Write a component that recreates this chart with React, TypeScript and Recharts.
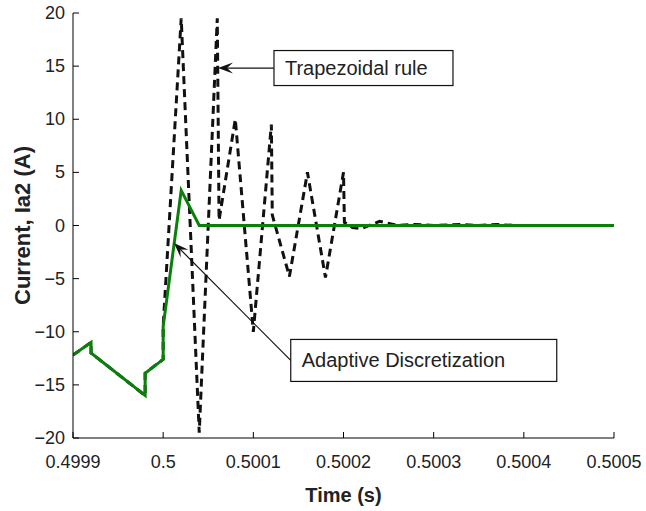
import React from 'react';
import { LineChart, Line, XAxis, YAxis, ReferenceLine, ReferenceDot } from 'recharts';

const xTicks = [0.4999, 0.5, 0.5001, 0.5002, 0.5003, 0.5004, 0.5005];
const xTickLabels = ['0.4999', '0.5', '0.5001', '0.5002', '0.5003', '0.5004', '0.5005'];
const yTicks = [-20, -15, -10, -5, 0, 5, 10, 15, 20];
const yTickLabels = ['\u221220', '\u221215', '\u221210', '\u22125', '0', '5', '10', '15', '20'];

const adaptiveTime = [0.4999, 0.49992, 0.49992, 0.49998, 0.49998, 0.5, 0.5, 0.50002, 0.50004, 0.5005];
const adaptiveCurrent = [-12.2, -11.0, -12.0, -16.0, -13.9, -12.6, -9.5, 3.3, 0, 0];

const trapTime = [
  0.4999, 0.49992, 0.49992, 0.49998, 0.49998, 0.5, 0.5, 0.50002, 0.50004, 0.50006, 0.500062,
  0.50008, 0.5001, 0.50012, 0.500121, 0.50014, 0.50016, 0.50018, 0.5002, 0.500201, 0.50021,
  0.50022, 0.50024, 0.50026, 0.50028, 0.5003, 0.50033, 0.50035, 0.50037, 0.50039, 0.5005,
];
const trapCurrent = [
  -12.2, -11.0, -12.0, -16.0, -13.9, -12.6, -9.5, 19.5, -19.5, 19.5, 0.5,
  10.0, -10.0, 9.5, 1.0, -4.8, 5.0, -4.9, 5.0, 0.3, -0.2,
  -0.3, 0.4, 0.0, 0.1, 0.0, 0.1, 0.0, 0.1, 0.0, 0,
];

const trapLabel = 'Trapezoidal rule';
const trapLabelAnchor = { x: 0.5001229, y: 14.82 };
const trapArrowTip = { x: 0.5000608, y: 14.82 };
const adaptiveLabel = 'Adaptive Discretization';
const adaptiveLabelAnchor = { x: 0.5001415, y: -12.7 };
const adaptiveArrowTip = { x: 0.500012, y: -1.65 };

const adaptiveData = adaptiveTime.map((t, i) => ({ t, v: adaptiveCurrent[i] }));
const trapData = trapTime.map((t, i) => ({ t, v: trapCurrent[i] }));

const FONT = '"Liberation Sans", Arial, Helvetica, sans-serif';
const TICK_LEN = 6;

const BottomTick = (p: any) => (
  <g>
    <line x1={p.x} x2={p.x} y1={p.y} y2={p.y - TICK_LEN} stroke="#000" strokeWidth={1} />
    <text x={p.x} y={p.y + 30} textAnchor="middle" fontFamily={FONT} fontSize={18} fill="#222">
      {xTickLabels[p.index]}
    </text>
  </g>
);
const TopTick = (p: any) => (
  <line x1={p.x} x2={p.x} y1={p.y} y2={p.y + TICK_LEN} stroke="#000" strokeWidth={1} />
);
const LeftTick = (p: any) => (
  <g>
    <line x1={p.x} x2={p.x + TICK_LEN} y1={p.y} y2={p.y} stroke="#000" strokeWidth={1} />
    <text x={p.x - 8} y={p.y + 6} textAnchor="end" fontFamily={FONT} fontSize={18} fill="#222">
      {yTickLabels[p.index]}
    </text>
  </g>
);
const RightTick = (p: any) => (
  <line x1={p.x} x2={p.x - TICK_LEN} y1={p.y} y2={p.y} stroke="#000" strokeWidth={1} />
);

const ArrowShape = (p: any) => {
  const { x1, y1, x2, y2 } = p;
  const dx = x1 - x2;
  const dy = y1 - y2;
  const len = Math.sqrt(dx * dx + dy * dy) || 1;
  const ux = dx / len;
  const uy = dy / len;
  const nx = -uy;
  const ny = ux;
  const L = 15;
  const W = 5.5;
  const N = 9;
  const pts = [
    [x2, y2],
    [x2 + ux * L + nx * W, y2 + uy * L + ny * W],
    [x2 + ux * N, y2 + uy * N],
    [x2 + ux * L - nx * W, y2 + uy * L - ny * W],
  ]
    .map((q) => q.join(','))
    .join(' ');
  return (
    <g>
      <line x1={x1} y1={y1} x2={x2 + ux * N} y2={y2 + uy * N} stroke="#111" strokeWidth={1.2} />
      <polygon points={pts} fill="#111" />
    </g>
  );
};

const makeBox = (text: string, w: number, h: number) => (p: any) => (
  <g>
    <rect x={p.cx} y={p.cy - h / 2} width={w} height={h} fill="#fff" stroke="#111" strokeWidth={1.2} />
    <text x={p.cx + 11} y={p.cy + 7} fontFamily={FONT} fontSize={20} fill="#222">
      {text}
    </text>
  </g>
);

export default function App() {
  return (
    <div style={{ position: 'absolute', left: 0, top: 0, width: 646, height: 511, background: '#fff' }}>
      <LineChart width={646} height={511} margin={{ top: 13, right: 32, bottom: 0, left: 0 }}>
        <XAxis
          xAxisId="b"
          type="number"
          dataKey="t"
          domain={[0.4999, 0.5005]}
          ticks={xTicks}
          allowDataOverflow
          height={73}
          tickSize={0}
          tickMargin={0}
          tick={<BottomTick />}
          axisLine={{ stroke: '#000', strokeWidth: 1 }}
          interval={0}
          label={{
            content: (lp: any) => {
              const vb = lp.viewBox || { x: 73, y: 438, width: 541 };
              return (
                <text x={vb.x + vb.width / 2} y={vb.y + 64} textAnchor="middle" fontFamily={FONT} fontSize={20} fontWeight="bold" fill="#222">
                  Time (s)
                </text>
              );
            },
          }}
        />
        <XAxis
          xAxisId="top"
          orientation="top"
          type="number"
          dataKey="t"
          domain={[0.4999, 0.5005]}
          ticks={xTicks}
          allowDataOverflow
          height={0}
          tickSize={0}
          tickMargin={0}
          tick={<TopTick />}
          interval={0}
          axisLine={{ stroke: '#000', strokeWidth: 1 }}
        />
        <YAxis
          yAxisId="l"
          type="number"
          domain={[-20, 20]}
          ticks={yTicks}
          allowDataOverflow
          width={73}
          tickSize={0}
          tickMargin={0}
          tick={<LeftTick />}
          interval={0}
          axisLine={{ stroke: '#000', strokeWidth: 1 }}
          label={{
            content: (lp: any) => {
              const vb = lp.viewBox || { x: 0, y: 13, width: 73, height: 425 };
              const cx = 22;
              const cy = vb.y + vb.height / 2;
              return (
                <text x={cx} y={cy} transform={`rotate(-90 ${cx} ${cy})`} textAnchor="middle" dominantBaseline="central" fontFamily={FONT} fontSize={22} fontWeight="bold" fill="#222">
                  Current, Ia2 (A)
                </text>
              );
            },
          }}
        />
        <YAxis
          yAxisId="r"
          orientation="right"
          type="number"
          domain={[-20, 20]}
          ticks={yTicks}
          allowDataOverflow
          width={0}
          tickSize={0}
          tickMargin={0}
          tick={<RightTick />}
          interval={0}
          axisLine={{ stroke: '#000', strokeWidth: 1 }}
        />
        <Line
          xAxisId="b"
          yAxisId="l"
          data={trapData}
          dataKey="v"
          type="linear"
          stroke="#111"
          strokeWidth={3}
          strokeDasharray="8 5"
          dot={false}
          activeDot={false}
          isAnimationActive={false}
        />
        <Line
          xAxisId="b"
          yAxisId="l"
          data={adaptiveData}
          dataKey="v"
          type="linear"
          stroke="#0a800a"
          strokeWidth={3}
          dot={false}
          activeDot={false}
          isAnimationActive={false}
        />
        <ReferenceLine
          xAxisId="b"
          yAxisId="l"
          segment={[trapLabelAnchor, trapArrowTip]}
          shape={ArrowShape}
        />
        <ReferenceLine
          xAxisId="b"
          yAxisId="l"
          segment={[adaptiveLabelAnchor, adaptiveArrowTip]}
          shape={ArrowShape}
        />
        <ReferenceDot
          xAxisId="b"
          yAxisId="l"
          x={trapLabelAnchor.x}
          y={trapLabelAnchor.y}
          r={1}
          shape={makeBox(trapLabel, 179, 35)}
        />
        <ReferenceDot
          xAxisId="b"
          yAxisId="l"
          x={adaptiveLabelAnchor.x}
          y={adaptiveLabelAnchor.y}
          r={1}
          shape={makeBox(adaptiveLabel, 266, 42)}
        />
      </LineChart>
    </div>
  );
}
